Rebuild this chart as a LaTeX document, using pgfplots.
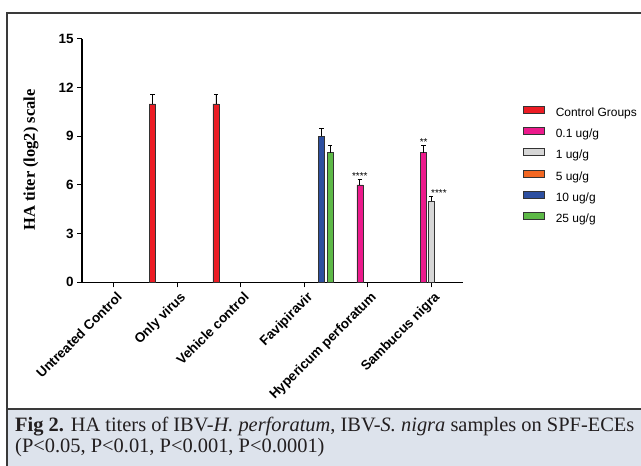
\documentclass[border=0pt]{standalone}
\usepackage{fontspec}
\setmainfont{Liberation Serif}
\setsansfont{Liberation Sans}
\usepackage{pgfplots}
\pgfplotsset{compat=1.18}
\definecolor{cRed}{HTML}{EC1C24}
\definecolor{cPink}{HTML}{EC1A8C}
\definecolor{cGray}{HTML}{D6D6D6}
\definecolor{cOrange}{HTML}{F26722}
\definecolor{cBlue}{HTML}{2D4FA0}
\definecolor{cGreen}{HTML}{5DB947}
\definecolor{capbg}{HTML}{DDE3EC}
\definecolor{framec}{HTML}{3A3A3A}
\definecolor{captext}{HTML}{231F20}

\pgfplotsset{
  bars/.style={ybar, bar width=6bp, bar shift=0pt, draw=black!80, line width=0.6bp,
    error bars/y dir=plus, error bars/y explicit,
    error bars/error bar style={line width=0.7bp, black},
    error bars/error mark options={rotate=90, mark size=2.2bp, line width=0.7bp, black}},
}
\tikzset{stars/.style={anchor=base, inner sep=0pt, font=\sffamily\fontsize{10}{10}\selectfont}}

\begin{document}
\begin{tikzpicture}[x=1bp,y=1bp]
\useasboundingbox (0,0) rectangle (641,466);
% caption band and frame
\fill[capbg] (7,0) rectangle (645,57);
\draw[framec, line width=1.2bp] (7,0) -- (7,453) -- (645,453);
\draw[framec, line width=1.2bp] (7,57) -- (645,57);

\begin{axis}[
  at={(82bp,183.7bp)}, anchor=south west, scale only axis,
  width=381bp, height=243.3bp,
  xmin=-0.5, xmax=5.5, ymin=0, ymax=15,
  axis lines*=left,
  axis line style={line width=1.2bp, black},
  tick style={line width=1bp, black},
  tick align=outside, major tick length=5bp,
  xtick={0,1,2,3,4,5},
  xticklabels={Untreated Control, Only virus, Vehicle control, Favipiravir, Hypericum perforatum, Sambucus nigra},
  ytick={0,3,6,9,12,15},
  /pgf/number format/assume math mode=true,
  x tick label style={rotate=45, anchor=north east, inner sep=1bp, yshift=-3bp,
    font=\sffamily\bfseries\fontsize{13.5}{14}\selectfont},
  y tick label style={font=\sffamily\bfseries\fontsize{13.5}{14}\selectfont},
  legend image code/.code={\draw[#1] (0bp,0.4bp) rectangle (21bp,7.4bp);},
  legend cell align=left,
  legend style={at={(1.1575,0.7247)}, anchor=north west, draw=none, fill=none,
    inner sep=0pt, row sep=8.2bp,
    nodes={inner sep=0pt, text height=8bp, text depth=2.5bp,
      font=\sffamily\fontsize{12}{13}\selectfont},
    /tikz/every odd column/.append style={column sep=11bp}},
  clip=false,
]
\addplot[bars, fill=cRed] coordinates {(0.61,11) +- (0,0.6) (1.61,11) +- (0,0.6)};
\addlegendentry{Control Groups}
\addplot[bars, fill=cPink] coordinates {(3.875,6) +- (0,0.33) (4.88,8) +- (0,0.45)};
\addlegendentry{0.1 ug/g}
\addplot[bars, fill=cGray] coordinates {(5.0,5) +- (0,0.3)};
\addlegendentry{1 ug/g}
\addlegendimage{fill=cOrange, draw=black!80, line width=0.6bp}
\addlegendentry{5 ug/g}
\addplot[bars, fill=cBlue] coordinates {(3.27,9) +- (0,0.5)};
\addlegendentry{10 ug/g}
\addplot[bars, fill=cGreen] coordinates {(3.41,8) +- (0,0.45)};
\addlegendentry{25 ug/g}

\node[stars] at (axis cs:3.875,6.32) {****};
\node[stars] at (axis cs:4.88,8.42) {**};
\node[stars] at (axis cs:5.12,5.29) {****};
\end{axis}

\node[rotate=90, font=\bfseries\fontsize{16.5}{17}\selectfont] at (31,306) {HA titer (log2) scale};

\node[anchor=base west, inner sep=0pt, text=captext, font=\fontsize{20.5}{24}\selectfont] at (15,34)
  {\textbf{Fig 2.} HA titers of IBV-\textit{H. perforatum}, IBV-\textit{S. nigra} samples on SPF-ECEs};
\node[anchor=base west, inner sep=0pt, text=captext, font=\fontsize{20.5}{24}\selectfont] at (15,13)
  {(P<0.05, P<0.01, P<0.001, P<0.0001)};
\end{tikzpicture}
\end{document}
